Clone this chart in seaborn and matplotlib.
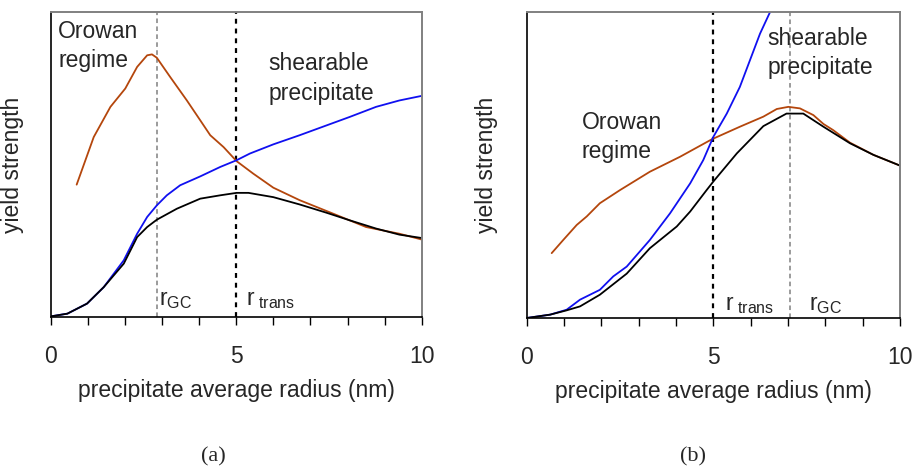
import matplotlib
matplotlib.use("Agg")
import matplotlib.pyplot as plt
import seaborn as sns
import pandas as pd

sns.set_style("white")
plt.rcParams['font.family'] = ['Liberation Sans', 'DejaVu Sans']
plt.rcParams['mathtext.fontset'] = 'custom'
plt.rcParams['mathtext.rm'] = 'Liberation Sans'
plt.rcParams['mathtext.it'] = 'Liberation Sans:italic'

# ---------------- data: panel (a) ----------------
a_orowan_x = [0.70, 1.16, 1.61, 2.01, 2.33, 2.60, 2.73, 2.86, 3.22, 3.67, 4.03, 4.30, 4.66, 5.01, 5.46, 6.00, 6.71, 7.61, 8.50, 9.40, 10.0]
a_orowan_y = [43.4, 59.0, 68.9, 74.9, 82.0, 85.8, 86.1, 85.0, 78.7, 71.0, 64.5, 59.6, 55.7, 51.1, 47.0, 42.4, 38.3, 33.9, 29.5, 27.3, 25.4]
a_shear_x = [0.0, 0.45, 0.98, 1.43, 1.97, 2.33, 2.60, 2.86, 3.13, 3.49, 4.03, 4.57, 5.01, 5.37, 6.00, 6.71, 7.43, 8.06, 8.77, 9.40, 10.0]
a_shear_y = [0.2, 1.1, 4.4, 9.8, 18.6, 27.3, 32.8, 36.6, 39.9, 43.2, 46.1, 49.2, 51.4, 53.6, 56.6, 59.6, 62.8, 65.6, 68.9, 71.0, 72.5]
a_total_x = [0.0, 0.45, 0.98, 1.43, 1.97, 2.33, 2.60, 2.86, 3.40, 4.03, 4.57, 5.01, 5.33, 6.00, 6.71, 7.43, 8.06, 8.77, 9.40, 10.0]
a_total_y = [0.2, 1.1, 4.4, 9.8, 17.5, 26.2, 29.5, 31.9, 35.5, 38.8, 39.9, 40.7, 40.7, 39.3, 36.9, 34.2, 31.7, 29.0, 27.0, 25.9]
a_r_gc = 2.86
a_r_trans = 5.0

# ---------------- data: panel (b) ----------------
b_orowan_x = [0.67, 0.98, 1.34, 1.61, 1.96, 2.50, 3.30, 4.11, 4.96, 5.71, 6.34, 6.70, 7.01, 7.32, 7.68, 7.95, 8.21, 8.66, 9.29, 10.0]
b_orowan_y = [21.2, 25.5, 30.4, 33.2, 37.5, 41.8, 47.8, 52.7, 58.4, 62.5, 65.8, 68.3, 69.0, 68.5, 66.3, 63.4, 61.4, 57.3, 53.3, 49.8]
b_shear_x = [0.0, 0.63, 1.07, 1.43, 1.96, 2.32, 2.68, 3.30, 3.84, 4.38, 4.73, 5.00, 5.36, 5.71, 5.98, 6.25, 6.52, 6.62]
b_shear_y = [0.0, 1.1, 2.7, 6.0, 9.2, 13.6, 16.8, 25.5, 34.2, 44.0, 51.6, 59.2, 66.8, 75.5, 84.2, 92.9, 100.0, 103.0]
b_total_x = [0.0, 0.63, 1.07, 1.43, 1.96, 2.68, 3.30, 4.02, 4.38, 4.82, 5.00, 5.63, 6.34, 6.96, 7.41, 7.95, 8.66, 9.29, 10.0]
b_total_y = [0.0, 1.1, 2.5, 3.8, 7.6, 14.5, 22.8, 29.9, 34.8, 41.8, 44.6, 53.8, 62.7, 66.8, 66.8, 62.5, 57.1, 53.3, 49.8]
b_r_gc = 7.05
b_r_trans = 5.0

x_ticks = [0, 5, 10]
x_tick_labels = ["0", "5", "10"]
x_label = "precipitate average radius (nm)"
y_label = "yield strength"
panel_labels = ["(a)", "(b)"]

BROWN = "#B4460C"
BLUE = "#1010F0"
GRAY = "#808080"
FS = 16.5

fig = plt.figure(figsize=(9.15, 4.7), dpi=100)
ax1 = fig.add_axes([0.0554, 0.3255, 0.4055, 0.6490])
ax2 = fig.add_axes([0.5756, 0.3234, 0.4080, 0.6511])


def draw(ax, ox, oy, sx, sy, tx, ty, r_gc, r_trans, ylab_x):
    for xs, ys, c in [(ox, oy, BROWN), (sx, sy, BLUE), (tx, ty, "black")]:
        df = pd.DataFrame({"x": xs, "y": ys})
        sns.lineplot(data=df, x="x", y="y", ax=ax, color=c, lw=1.3,
                     estimator=None, sort=False)
    ax.axvline(r_gc, color=GRAY, lw=1.1, ls=(0, (3, 2.2)), zorder=1)
    ax.axvline(r_trans, color="black", lw=1.6, ls=(0, (2.2, 2.2)), zorder=1)
    ax.set_xlim(0, 10)
    ax.set_ylim(0, 100)
    ax.set_yticks([])
    ax.set_xticks(x_ticks)
    ax.set_xticklabels(x_tick_labels, fontsize=FS)
    ax.set_xticks(range(11), minor=True)
    ax.tick_params(axis="x", which="both", direction="out", bottom=True,
                   length=6, width=1, color="black", pad=14)
    ax.set_xlabel(x_label, fontsize=FS, labelpad=8)
    ax.set_ylabel(y_label, fontsize=FS)
    ax.yaxis.set_label_coords(ylab_x, 0.5)
    for s in ["top", "right"]:
        ax.spines[s].set_color(GRAY)
        ax.spines[s].set_linewidth(1.4)
    for s in ["left", "bottom"]:
        ax.spines[s].set_color("black")
        ax.spines[s].set_linewidth(1.2)


draw(ax1, a_orowan_x, a_orowan_y, a_shear_x, a_shear_y, a_total_x, a_total_y,
     a_r_gc, a_r_trans, -0.072)
draw(ax2, b_orowan_x, b_orowan_y, b_shear_x, b_shear_y, b_total_x, b_total_y,
     b_r_gc, b_r_trans, -0.077)

# annotations panel (a)
ax1.text(0.20, 91.5, "Orowan", fontsize=FS, va="baseline")
ax1.text(0.20, 82.1, "regime", fontsize=FS, va="baseline")
ax1.text(5.86, 81.0, "shearable", fontsize=FS, va="baseline")
ax1.text(5.86, 71.1, "precipitate", fontsize=FS, va="baseline")
ax1.text(2.92, 3.9, r"r$_{\mathrm{GC}}$", fontsize=FS, va="baseline")
ax1.text(5.26, 3.9, r"r$_{\mathrm{\ trans}}$", fontsize=FS, va="baseline")

# annotations panel (b)
ax2.text(6.44, 89.2, "shearable", fontsize=FS, va="baseline")
ax2.text(6.44, 79.7, "precipitate", fontsize=FS, va="baseline")
ax2.text(1.48, 61.8, "Orowan", fontsize=FS, va="baseline")
ax2.text(1.48, 52.2, "regime", fontsize=FS, va="baseline")
ax2.text(5.32, 2.6, r"r$_{\mathrm{\ trans}}$", fontsize=FS, va="baseline")
ax2.text(7.56, 2.6, r"r$_{\mathrm{GC}}$", fontsize=FS, va="baseline")

fig.text(213 / 915, 1 - 457 / 470, panel_labels[0], fontsize=16,
         family=["Liberation Serif", "DejaVu Serif"], ha="center", va="center")
fig.text(693 / 915, 1 - 457 / 470, panel_labels[1], fontsize=16,
         family=["Liberation Serif", "DejaVu Serif"], ha="center", va="center")

fig.savefig("out.png", dpi=100)
